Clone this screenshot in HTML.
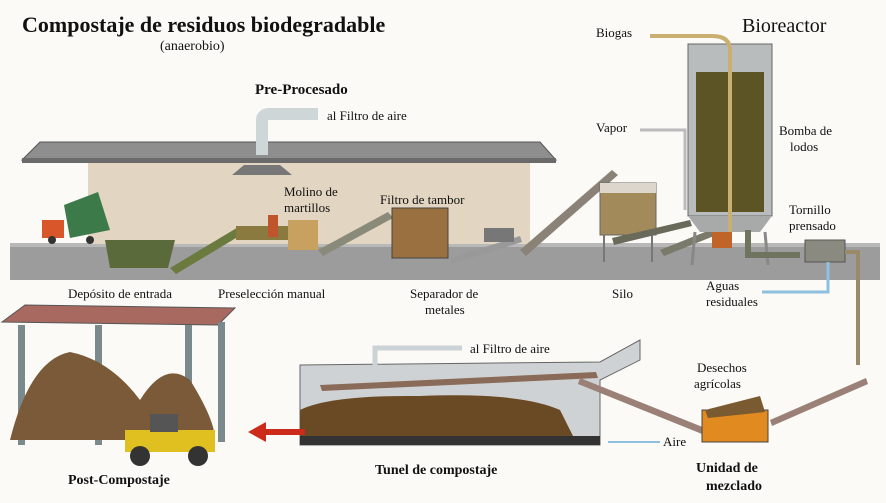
<!DOCTYPE html>
<html><head><meta charset="utf-8"><style>
body{margin:0;background:#fff}
svg{display:block}
text{font-family:"Liberation Serif",serif;fill:#111}
</style></head><body>
<svg width="886" height="503" viewBox="0 0 886 503">
<rect width="886" height="503" fill="#fbfaf6"/>
<text x="22" y="32" font-size="22" font-weight="bold">Compostaje de residuos biodegradable</text>
<text x="160" y="50" font-size="14">(anaerobio)</text>
<text x="255" y="94" font-size="15" font-weight="bold">Pre-Procesado</text>
<text x="742" y="32" font-size="20">Bioreactor</text>

<!-- ground -->
<polygon points="10,243 880,243 880,280 10,280" fill="#9c9c9c"/>
<rect x="10" y="243" width="870" height="4" fill="#b8b8b8"/>
<!-- building -->
<rect x="88" y="162" width="442" height="82" fill="#e2d6c2"/>
<polygon points="22,160 40,142 540,142 556,160" fill="#8e8e8e" stroke="#555"/>
<rect x="22" y="158" width="534" height="5" fill="#6a6a6a"/>
<polygon points="232,175 292,175 280,165 244,165" fill="#777"/>
<!-- air duct -->
<path d="M262,155 L262,120 Q262,114 270,114 L318,114" stroke="#cfd6d8" stroke-width="12" fill="none"/>
<text x="327" y="120" font-size="13">al Filtro de aire</text>
<!-- truck -->
<rect x="42" y="220" width="22" height="18" fill="#d9562a"/>
<polygon points="64,205 98,192 110,230 70,238" fill="#3d7a4a"/>
<circle cx="52" cy="240" r="4" fill="#333"/><circle cx="90" cy="240" r="4" fill="#333"/>
<!-- deposit pit -->
<polygon points="105,240 175,240 168,268 110,268" fill="#5b6a3a"/>
<polygon points="170,268 240,226 246,232 176,274" fill="#6b7a3e"/>
<polygon points="236,226 300,226 300,240 236,240" fill="#8a7a40"/>
<rect x="268" y="215" width="10" height="22" fill="#c0542a"/>
<rect x="288" y="220" width="30" height="30" fill="#c8a060"/>
<polygon points="318,250 388,212 393,218 323,256" fill="#8a8a7a"/>
<rect x="392" y="208" width="56" height="50" fill="#9a7040" stroke="#444"/>
<polygon points="450,258 520,236 522,242 452,264" fill="#999"/>
<rect x="484" y="228" width="30" height="14" fill="#777"/>
<polygon points="520,250 612,170 618,175 526,256" fill="#8a8276"/>
<!-- silo -->
<rect x="600" y="183" width="56" height="52" fill="#a38a5a" stroke="#666"/>
<rect x="600" y="183" width="56" height="10" fill="#dcd6cc"/>
<line x1="604" y1="235" x2="604" y2="262" stroke="#777" stroke-width="2"/>
<line x1="652" y1="235" x2="652" y2="262" stroke="#777" stroke-width="2"/>
<polygon points="612,238 690,220 692,226 614,245" fill="#6a6a5a"/>
<polygon points="660,250 720,226 724,232 664,256" fill="#7a7a6a"/>
<!-- bioreactor -->
<rect x="688" y="44" width="84" height="172" fill="#b9bcbc" stroke="#666"/>
<rect x="696" y="72" width="68" height="140" fill="#5c5424"/>
<polygon points="688,216 772,216 760,232 700,232" fill="#a8aaaa"/>
<line x1="695" y1="232" x2="692" y2="265" stroke="#888" stroke-width="3"/>
<line x1="765" y1="232" x2="768" y2="265" stroke="#888" stroke-width="3"/>
<path d="M730,232 L730,50 Q730,36 712,36 L650,36" stroke="#c9b070" stroke-width="4" fill="none"/>
<path d="M748,230 L748,255 L800,255" stroke="#6f745e" stroke-width="6" fill="none"/>
<rect x="712" y="232" width="20" height="16" fill="#c0642a"/>
<text x="596" y="37" font-size="13">Biogas</text>
<text x="596" y="132" font-size="13">Vapor</text>
<path d="M640,130 L685,130 L685,210" stroke="#bbb" stroke-width="3" fill="none"/>
<text x="779" y="135" font-size="13">Bomba de</text>
<text x="790" y="151" font-size="13">lodos</text>
<text x="789" y="214" font-size="13">Tornillo</text>
<text x="789" y="230" font-size="13">prensado</text>
<rect x="805" y="240" width="40" height="22" fill="#8a8a80" stroke="#555"/>
<path d="M845,252 L858,252 L858,365" stroke="#9a8a6a" stroke-width="4" fill="none"/>
<path d="M828,262 L828,292 L762,292" stroke="#8fc0e0" stroke-width="3" fill="none"/>
<text x="706" y="290" font-size="13">Aguas</text>
<text x="706" y="306" font-size="13">residuales</text>
<!-- labels row -->
<text x="68" y="298" font-size="13">Depósito de entrada</text>
<text x="218" y="298" font-size="13">Preselección manual</text>
<text x="284" y="196" font-size="13">Molino de</text>
<text x="284" y="212" font-size="13">martillos</text>
<text x="380" y="204" font-size="13">Filtro de tambor</text>
<text x="410" y="298" font-size="13">Separador de</text>
<text x="425" y="314" font-size="13">metales</text>
<text x="612" y="298" font-size="13">Silo</text>
<!-- tunnel -->
<polygon points="300,365 600,362 640,340 640,360 600,380 600,445 300,445" fill="#cfd2d4" stroke="#666"/>
<path d="M300,440 L300,410 Q330,395 420,396 Q520,392 560,410 L575,440 Z" fill="#6a4a24"/>
<rect x="300" y="436" width="300" height="9" fill="#333"/>
<polygon points="320,385 596,372 598,378 322,391" fill="#8a6a58"/>
<polygon points="580,378 705,428 702,434 578,384" fill="#9a8076"/>
<path d="M375,365 L375,348 L462,348" stroke="#ccd3d6" stroke-width="5" fill="none"/>
<text x="470" y="353" font-size="13">al Filtro de aire</text>
<text x="375" y="474" font-size="14" font-weight="bold">Tunel de compostaje</text>
<path d="M660,442 L608,442" stroke="#8fc0e0" stroke-width="2"/>
<text x="663" y="446" font-size="13">Aire</text>
<!-- mixer -->
<polygon points="770,420 866,378 868,384 772,426" fill="#9a8076"/>
<rect x="702" y="410" width="66" height="32" fill="#e08a20" stroke="#444"/>
<polygon points="705,410 760,396 765,412 708,418" fill="#7a5a30"/>
<text x="697" y="372" font-size="13">Desechos</text>
<text x="697" y="360" font-size="0">.</text>
<text x="694" y="388" font-size="13">agrícolas</text>
<text x="696" y="472" font-size="14" font-weight="bold">Unidad de</text>
<text x="706" y="490" font-size="14" font-weight="bold">mezclado</text>
<!-- post-compost -->
<polygon points="2,322 25,305 235,308 218,325" fill="#a86a60" stroke="#555"/>
<rect x="18" y="325" width="7" height="120" fill="#7a8a8c"/>
<rect x="95" y="325" width="7" height="120" fill="#7a8a8c"/>
<rect x="185" y="325" width="7" height="120" fill="#7a8a8c"/>
<rect x="218" y="322" width="7" height="120" fill="#7a8a8c"/>
<path d="M10,440 Q30,360 70,352 Q110,360 140,400 Q165,360 190,380 Q215,420 215,440 Z" fill="#7a5a38"/>
<rect x="125" y="430" width="90" height="22" fill="#e0c020"/>
<rect x="150" y="414" width="28" height="18" fill="#555"/>
<circle cx="140" cy="456" r="10" fill="#333"/><circle cx="198" cy="456" r="10" fill="#333"/>
<path d="M305,432 L265,432" stroke="#cc2a1a" stroke-width="6"/>
<polygon points="248,432 266,422 266,442" fill="#cc2a1a"/>
<text x="68" y="484" font-size="14" font-weight="bold">Post-Compostaje</text>
</svg>
</body></html>
